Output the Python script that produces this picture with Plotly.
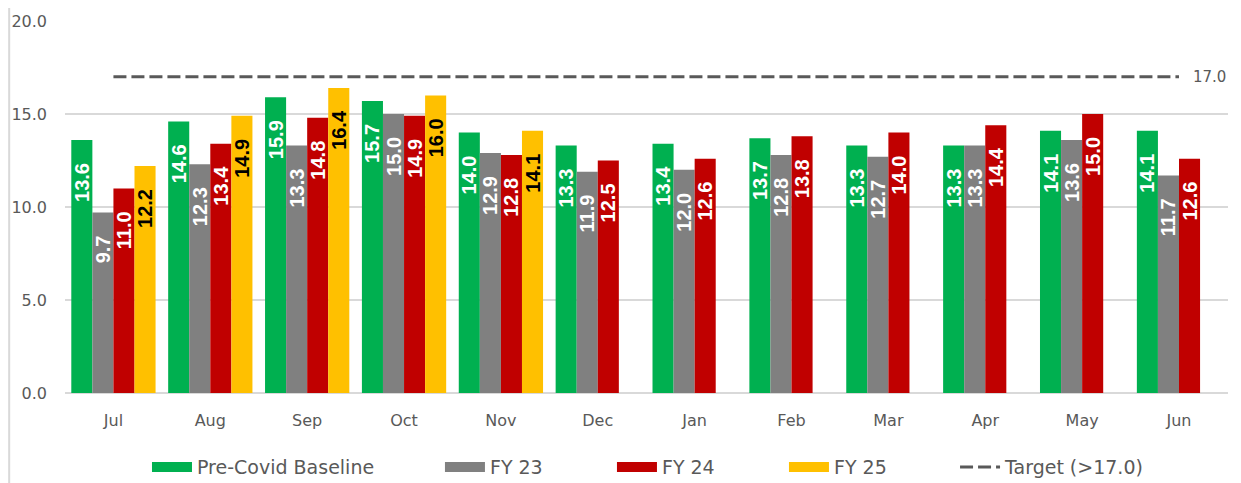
import plotly.graph_objects as go

# ── data ──────────────────────────────────────────────────────────────────────
months = ["Jul", "Aug", "Sep", "Oct", "Nov", "Dec", "Jan", "Feb", "Mar", "Apr", "May", "Jun"]
pre_covid = [13.6, 14.6, 15.9, 15.7, 14.0, 13.3, 13.4, 13.7, 13.3, 13.3, 14.1, 14.1]
fy23 = [9.7, 12.3, 13.3, 15.0, 12.9, 11.9, 12.0, 12.8, 12.7, 13.3, 13.6, 11.7]
fy24 = [11.0, 13.4, 14.8, 14.9, 12.8, 12.5, 12.6, 13.8, 14.0, 14.4, 15.0, 12.6]
fy25 = [12.2, 14.9, 16.4, 16.0, 14.1, None, None, None, None, None, None, None]
target = 17.0
y_ticks = [0, 5, 10, 15, 20]

# ── colours ───────────────────────────────────────────────────────────────────
GREEN = "#00B050"
GREY = "#808080"
RED = "#C00000"
YELLOW = "#FFC000"
TEXT = "#595959"
GRID = "#D9D9D9"

AXIS_FONT = "DejaVu Sans"
LABEL_FONT = "Liberation Sans"
LABEL_SIZE = 20
# invisible trailing pad so the value sits a little below the bar top
LABEL_PAD = "<span style='color:rgba(0,0,0,0)'>---</span>"

fig = go.Figure()

series = [
    ("Pre-Covid Baseline", pre_covid, GREEN, "white"),
    ("FY 23", fy23, GREY, "white"),
    ("FY 24", fy24, RED, "white"),
    ("FY 25", fy25, YELLOW, "black"),
]
for name, vals, color, txt_color in series:
    fig.add_trace(
        go.Bar(
            x=months,
            y=vals,
            name=name,
            legendgroup=name,
            showlegend=False,
            marker=dict(color=color, line=dict(width=0)),
            texttemplate="%{y:.1f}" + LABEL_PAD,
            textposition="inside",
            insidetextanchor="end",
            textangle=-90,
            textfont=dict(family=LABEL_FONT, size=LABEL_SIZE, color=txt_color, weight="bold"),
            cliponaxis=False,
        )
    )

# one legend per entry so the spacing follows the original
legend_ids = ["legend", "legend2", "legend3", "legend4", "legend5"]
legend_x = [0.0705, 0.3224, 0.4703, 0.6182, 0.7653]

# legend entries drawn as thick strokes, like the wide boxes in the original
for (name, vals, color, txt_color), lid in zip(series, legend_ids):
    fig.add_trace(
        go.Scatter(
            x=[None], y=[None],
            name=name,
            legendgroup=name,
            legend=lid,
            mode="lines",
            line=dict(color=color, width=10),
            hoverinfo="skip",
        )
    )

# target line across all months
fig.add_trace(
    go.Scatter(
        x=months,
        y=[target] * len(months),
        name="Target (>17.0)",
        legend=legend_ids[-1],
        mode="lines",
        line=dict(color=TEXT, width=3, dash="13px,5px"),
        hoverinfo="skip",
    )
)

fig.add_annotation(
    x=months[-1], y=target, text=f"{target:.1f}",
    xanchor="left", yanchor="middle", xshift=12, showarrow=False,
    font=dict(family=AXIS_FONT, size=15, color=TEXT),
)

# thin frame line on the left edge of the chart
fig.add_shape(
    type="line", xref="paper", yref="paper",
    x0=-0.048, x1=-0.048, y0=-0.26, y1=1.05,
    line=dict(color=GRID, width=2),
)

legend_style = dict(
    orientation="h",
    xanchor="left",
    y=-0.199, yanchor="middle",
    font=dict(family=AXIS_FONT, size=19, color=TEXT),
    itemwidth=40,
    bgcolor="rgba(0,0,0,0)",
)

# the page body adds an 8px margin, so the figure is sized to fit the window
fig.update_layout(
    width=1233,
    height=475,
    paper_bgcolor="white",
    plot_bgcolor="white",
    margin=dict(l=57, r=13, t=13, b=90, autoexpand=False),
    barmode="group",
    bargap=0.13,
    bargroupgap=0,
    uniformtext=dict(minsize=LABEL_SIZE, mode="show"),
    font=dict(family=AXIS_FONT, color=TEXT, size=16),
    showlegend=True,
    xaxis=dict(
        showgrid=False,
        showline=False,
        ticks="",
        tickfont=dict(family=AXIS_FONT, size=16, color=TEXT),
        ticklabelstandoff=16,
    ),
    yaxis=dict(
        range=[0, 20],
        tickvals=y_ticks,
        tickformat=".1f",
        showgrid=True,
        gridcolor=GRID,
        gridwidth=1.5,
        zeroline=True,
        zerolinecolor=GRID,
        zerolinewidth=2,
        tickfont=dict(family=AXIS_FONT, size=16, color=TEXT),
        ticklabelstandoff=17,
    ),
)
fig.update_layout({lid: dict(legend_style, x=lx) for lid, lx in zip(legend_ids, legend_x)})

fig.write_html("out.html")
